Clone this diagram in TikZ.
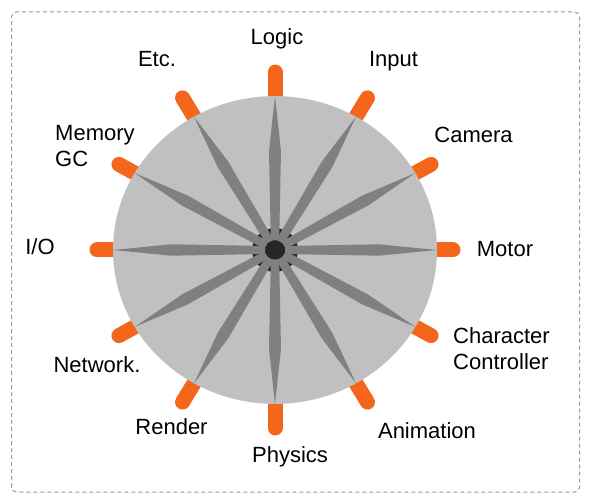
\documentclass[tikz,border=0pt]{standalone}
\usepackage{fontspec}
\setmainfont{Liberation Sans}
\definecolor{taborange}{HTML}{F4661B}
\definecolor{diskgray}{HTML}{C0C0C0}
\definecolor{spokegray}{HTML}{808080}
\definecolor{hubblack}{HTML}{262626}

\begin{document}
\begin{tikzpicture}[x=1pt,y=1pt]
\tikzset{frame/.style = {draw=black!40, dash pattern=on 4pt off 3pt, line width=1pt, rounded corners=5pt}}
\tikzset{tab/.style = {draw=taborange, line width=15pt, line cap=round}}
\tikzset{spoke/.style = {fill=spokegray}}
\tikzset{module/.style = {font=\fontsize{22}{26}\selectfont, inner sep=0pt}}
\useasboundingbox (0,0) rectangle (591,501);
% frame
\draw[frame] (11.5,9) rectangle (579.5,489);
% wheel
\begin{scope}[shift={(275,251)}, yscale=0.95]
\foreach \a in {0,30,...,330}{
  \pgfmathsetmacro\r{178/sqrt(cos(\a)^2+0.9025*sin(\a)^2)}
  \draw[tab] (\a:140) -- (\a:\r);
}
\fill[diskgray] (0,0) circle (162);
\fill[hubblack] (0,0) circle (23);
\foreach \a in {0,30,...,330}
  \fill[spoke, rotate=\a] (162,0) -- (104,6) -- (10,4.2) -- (10,-4.2) -- (104,-6) -- cycle;
\fill[hubblack] (0,0) circle (8.5);
\end{scope}
% modules
\node[module, anchor=base] (logic) at (277,456) {Logic};
\node[module, anchor=base] (input) at (393.5,434) {Input};
\node[module, anchor=base] (camera) at (473.5,358) {Camera};
\node[module, anchor=base] (motor) at (505,244) {Motor};
\node[module, anchor=base west, align=left] (charctrl) at (453,132) {Character\\Controller};
\node[module, anchor=base] (animation) at (427,63) {Animation};
\node[module, anchor=base] (physics) at (290,39) {Physics};
\node[module, anchor=base] (render) at (171.5,67) {Render};
\node[module, anchor=base] (network) at (97,129) {Network.};
\node[module, anchor=base] (io) at (40,246) {I/O};
\node[module, anchor=base west, align=left] (memory) at (55,334) {Memory\\GC};
\node[module, anchor=base] (etc) at (157,434) {Etc.};
\end{tikzpicture}
\end{document}
